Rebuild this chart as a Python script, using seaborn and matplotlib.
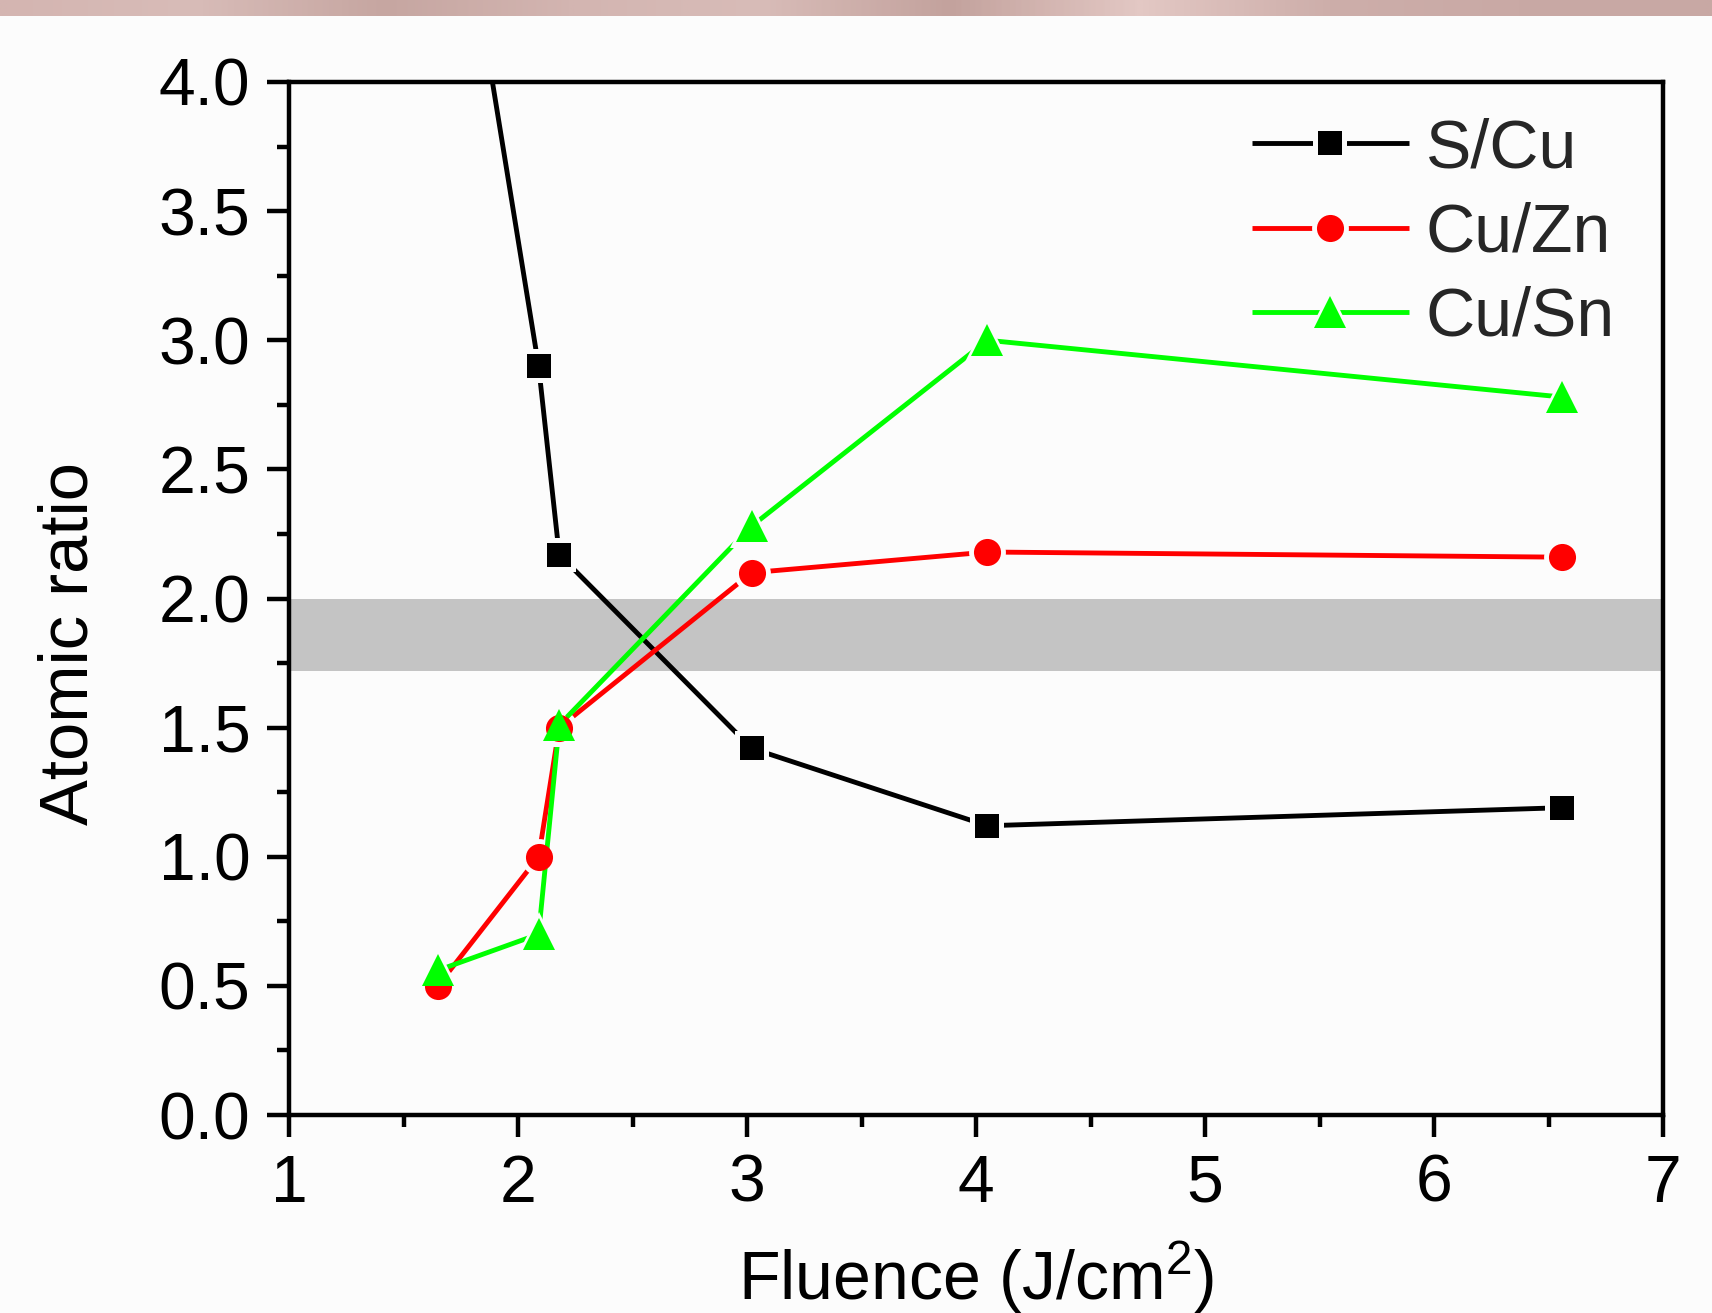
import numpy as np
import matplotlib
matplotlib.use("Agg")
import matplotlib.pyplot as plt
from matplotlib.colors import LinearSegmentedColormap
from matplotlib.ticker import MultipleLocator, FormatStrFormatter
from matplotlib.legend_handler import HandlerTuple
import seaborn as sns

# ---------------- data ----------------
fluence = [1.65, 2.09, 2.18, 3.02, 4.05, 6.56]
s_cu = [5.30, 2.90, 2.17, 1.42, 1.12, 1.19]
cu_zn = [0.50, 1.00, 1.50, 2.10, 2.18, 2.16]
cu_sn = [0.56, 0.70, 1.51, 2.28, 3.00, 2.78]
series_names = ["S/Cu", "Cu/Zn", "Cu/Sn"]
band_range = [1.72, 2.00]
x_limits = [1, 7]
y_limits = [0.0, 4.0]
x_label = "Fluence (J/cm$^2$)"
y_label = "Atomic ratio"

# ---------------- style ----------------
sns.set_theme(style="ticks")
plt.rcParams["font.family"] = ["Liberation Sans", "DejaVu Sans"]
plt.rcParams["mathtext.fontset"] = "custom"
plt.rcParams["mathtext.rm"] = "Liberation Sans"
plt.rcParams["mathtext.default"] = "regular"

W, H = 1712, 1313
bg = "#fcfcfc"
fig = plt.figure(figsize=(W / 100, H / 100), dpi=100, facecolor=bg)

# decorative top strip (screenshot artefact)
strip_colors = ["#d4b5b1", "#d8bcb8", "#c6a6a1", "#d3b5b1", "#d8bcb8",
                "#c3a29d", "#e3c8c4", "#cdaeaa", "#c9a9a5", "#c8a8a4"]
strip_cmap = LinearSegmentedColormap.from_list("strip", strip_colors)
sax = fig.add_axes([0, 1 - 16 / H, 1, 16 / H])
sax.imshow(np.linspace(0, 1, 600)[None, :], aspect="auto", cmap=strip_cmap)
sax.axis("off")

ax = fig.add_axes([289 / W, 1 - 1115 / H, 1374 / W, 1033 / H])
ax.set_facecolor(bg)

ax.axhspan(band_range[0], band_range[1], color="#c4c4c4", lw=0, zorder=0.5)

colors = ["#000000", "#ff0000", "#00ff00"]
markers = ["s", "o", "^"]
mark_sizes = [17.5, 19.5, 22.5]
gap_sizes = [24.5, 26.5, 31.0]
values = [s_cu, cu_zn, cu_sn]

line_handles = []
for i, (name, vals, c, m, gs) in enumerate(zip(series_names, values, colors, markers, gap_sizes)):
    n_before = len(ax.lines)
    sns.lineplot(x=fluence, y=vals, ax=ax, color=c, legend=False)
    line = ax.lines[n_before]
    line.set_linewidth(3.5)
    line.set_linestyle("-")
    line.set_color(c)
    line.set_marker(m)
    line.set_markersize(gs)
    line.set_markerfacecolor(bg)
    line.set_markeredgecolor(bg)
    line.set_markeredgewidth(0)
    line.set_zorder(2 + i)
    line.set_solid_capstyle("butt")
    line_handles.append(line)

mark_handles = []
for i, (vals, c, m, ms) in enumerate(zip(values, colors, markers, mark_sizes)):
    h, = ax.plot(fluence, vals, linestyle="none", marker=m, markersize=ms,
                 color=c, markeredgewidth=0, zorder=6 + i * 0.1)
    mark_handles.append(h)

ax.set_xlim(*x_limits)
ax.set_ylim(*y_limits)
ax.xaxis.set_major_locator(MultipleLocator(1))
ax.xaxis.set_minor_locator(MultipleLocator(0.5))
ax.yaxis.set_major_locator(MultipleLocator(0.5))
ax.yaxis.set_minor_locator(MultipleLocator(0.25))
ax.xaxis.set_major_formatter(FormatStrFormatter("%d"))
ax.yaxis.set_major_formatter(FormatStrFormatter("%.1f"))

for sp in ax.spines.values():
    sp.set_linewidth(3.2)
    sp.set_color("black")
    sp.set_visible(True)

ax.tick_params(axis="both", which="both", direction="out", color="black",
               width=3.2, top=False, right=False, labelsize=47.5,
               labelcolor="black")
ax.tick_params(axis="both", which="major", length=15.8, pad=12)
ax.tick_params(axis="both", which="minor", length=8.6)

ax.set_xlabel(x_label, fontsize=49, color="black")
ax.set_ylabel(y_label, fontsize=49.5, color="black")
ax.xaxis.label.set_va("baseline")
ax.yaxis.label.set_va("baseline")
ax.xaxis.set_label_coords(0.5, (1115 - 1300) / 1033)
ax.yaxis.set_label_coords((88 - 289) / 1374, (1115 - 643.5) / 1033)

leg = ax.legend(handles=list(zip(line_handles, mark_handles)), labels=series_names,
                handler_map={tuple: HandlerTuple(ndivide=1, pad=0)},
                loc="upper left", bbox_to_anchor=(0.701, 0.966),
                frameon=False, fontsize=49, handlelength=2.3,
                handletextpad=0.25, labelspacing=0.3, borderpad=0,
                borderaxespad=0)

fig.savefig("out.png", dpi=100, facecolor=bg)
